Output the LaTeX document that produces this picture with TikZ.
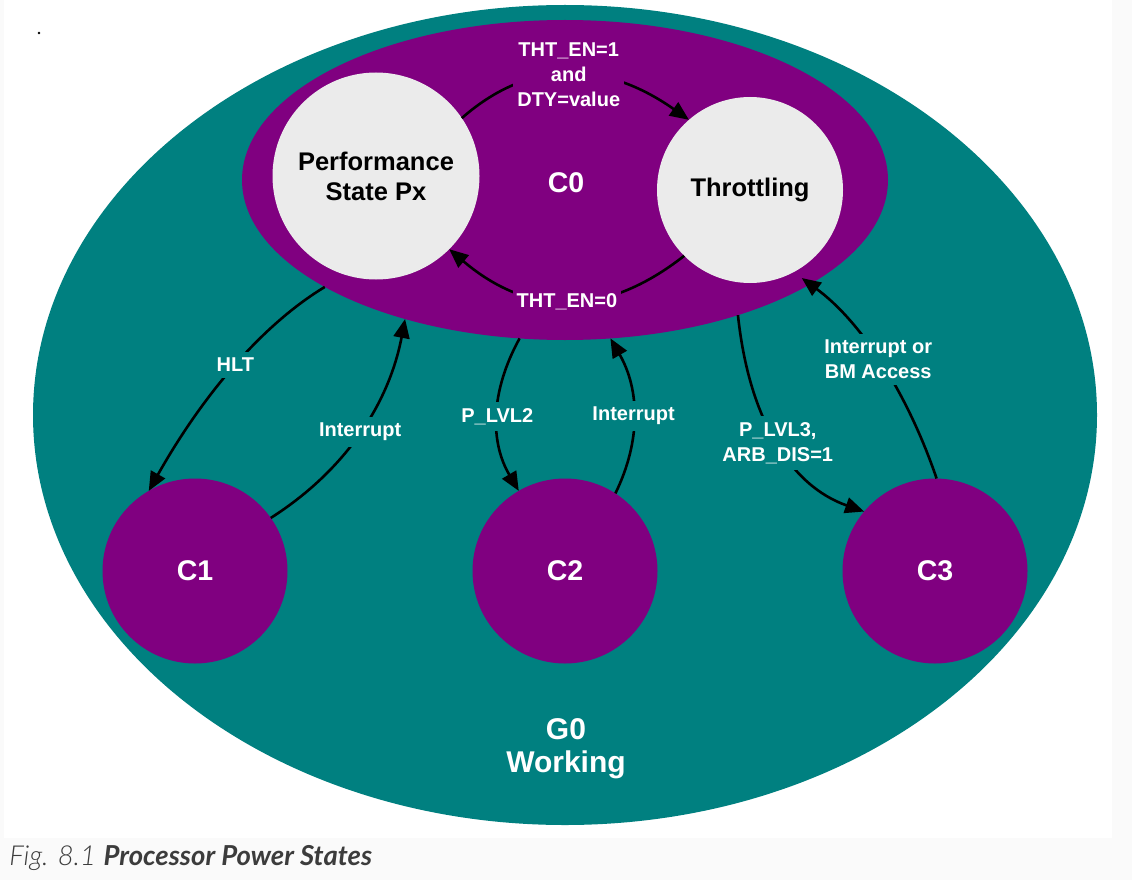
\documentclass[tikz,border=0pt]{standalone}
\usepackage{fontspec}
\setmainfont{Liberation Sans}
\newfontfamily\captionfont{Lato}
\newfontfamily\captionlight{Lato Light}
\usetikzlibrary{shapes.geometric,arrows.meta}

\definecolor{tealG}{HTML}{008080}
\definecolor{purpC}{HTML}{800080}
\definecolor{grayP}{HTML}{EBEBEB}
\definecolor{capgray}{HTML}{3C3C3C}
\definecolor{pagegray}{HTML}{FAFAFA}

\begin{document}
\begin{tikzpicture}[x=1pt, y=-1pt, line width=2.6pt,
    cstate/.style={circle, fill=purpC, minimum size=185pt, inner sep=0, outer sep=0,
        text=white, font=\bfseries\fontsize{28.5}{32}\selectfont},
    pstate/.style={circle, fill=grayP, inner sep=0, outer sep=0, align=center,
        font=\bfseries\fontsize{25.5}{30}\selectfont},
    trans/.style={draw=black, -{Triangle[length=19pt,width=16pt]}},
    tlabel/.style={pos=.5, fill=#1, text=white, align=center, inner xsep=4pt, inner ysep=6pt,
        font=\bfseries\fontsize{20}{25}\selectfont},
    tlabel/.default=tealG]

\useasboundingbox (0,0) rectangle (1132,880);
\fill[pagegray] (0,0) rectangle (1132,880);
\fill[white] (4,0) rectangle (1112,838);
\fill[black] (39,33) circle (1.3);

% G0 and C0
\node[ellipse, fill=tealG, minimum width=1064pt, minimum height=820pt, inner sep=0, outer sep=0] (g0) at (565,415) {};
\node[ellipse, fill=purpC, minimum width=646pt, minimum height=320pt, inner sep=0, outer sep=0] (c0) at (565,180) {};
\node[text=white, font=\bfseries\fontsize{28.5}{32}\selectfont] (c0lbl) at (566,183) {C0};

\node[pstate, minimum size=207pt] (perf) at (376,176) {Performance\\State Px};
\node[pstate, minimum size=186pt] (thr) at (750,190) {Throttling};

\node[cstate] (c1) at (195,571) {C1};
\node[cstate] (c2) at (565,571) {C2};
\node[cstate] (c3) at (935,571) {C3};

\node[text=white, align=center, font=\bfseries\fontsize{30}{33}\selectfont] (g0lbl) at (566,749) {G0\\Working};

% transitions inside C0
\draw[trans] (perf.34) .. controls (529,59) and (604,60) .. (thr.131) node[tlabel=purpC] (l1) {THT\_EN=1\\and\\DTY=value};
\draw[trans] (thr.225) .. controls (605,318) and (529,317) .. (perf.315) node[tlabel=purpC] (l2) {THT\_EN=0};

% C0 <-> C1, C2, C3
\draw[trans] (c0.204) .. controls (265,323) and (205,391) .. (c1.120) node[tlabel] (l3) {HLT};
\draw[trans] (c1.35) .. controls (346,470) and (389,403) .. (c0.221) node[tlabel] (l4) {Interrupt};
\draw[trans] (c0.254) .. controls (490,392) and (490,442) .. (c2.120) node[tlabel] (l5) {P\_LVL2};
\draw[trans] (c2.57) .. controls (641,441) and (640,390) .. (c0.286) node[tlabel] (l6) {Interrupt};
\draw[trans] (c0.322) .. controls (749,420) and (791,486) .. (c3.140) node[tlabel] (l7) {P\_LVL3,\\ARB\_DIS=1};
\draw[trans, shorten >=10pt] (c3.89) .. controls (906,389) and (859,320) .. (thr.298) node[tlabel] (l8) {Interrupt or\\BM Access};

\node[anchor=base west, inner sep=0, text=capgray, font=\fontsize{27.5}{30}\selectfont] (cap) at (8,865)
    {{\captionlight\itshape Fig. 8.1} {\captionfont\bfseries\itshape Processor Power States}};
\end{tikzpicture}
\end{document}
